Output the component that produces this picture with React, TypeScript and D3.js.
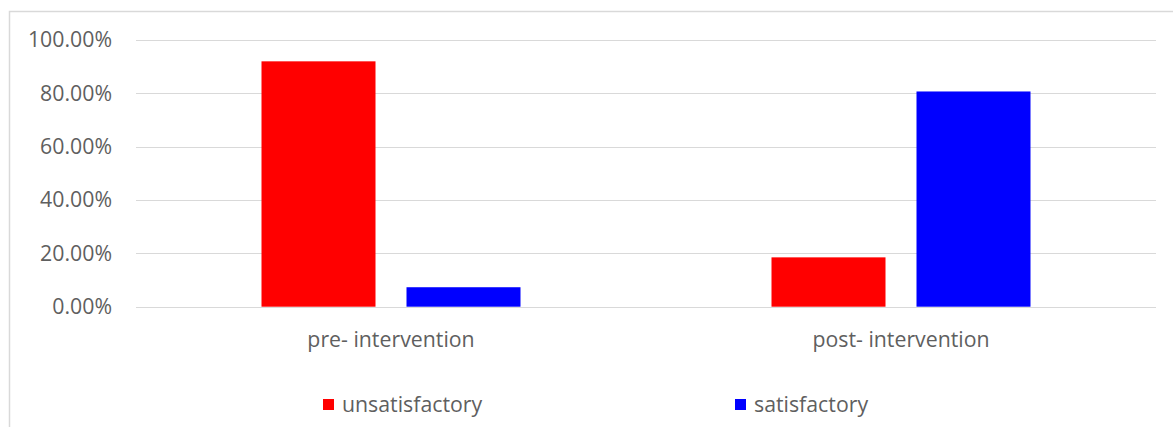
import React from "react";
import * as d3 from "d3";

const categories = ["pre- intervention", "post- intervention"];
const seriesNames = ["unsatisfactory", "satisfactory"];
const unsatisfactory = [92.0, 18.5];
const satisfactory = [7.3, 80.7];
const yTicks = [0, 20, 40, 60, 80, 100];
const colors = ["#ff0000", "#0000ff"];

const W = 1173;
const H = 427;
const FONT = "'Open Sans', Lato, sans-serif";
const TEXT = "#5f5f5f";
const FS = 21.3;

export default function App() {
  const x = d3.scaleBand<string>().domain(categories).range([136, 1156]);
  const y = d3.scaleLinear().domain([0, 100]).range([306.7, 40]);
  const barW = 114;
  const inner = 31;
  const series = [unsatisfactory, satisfactory];
  const fmt = (v: number) => v.toFixed(2) + "%";
  const legendX = [323, 735];

  return (
    <svg width={W} height={H} style={{ position: "absolute", left: 0, top: 0, background: "#fff" }}>
      <rect x={9.5} y={11.5} width={1400} height={600} fill="#fff" stroke="#d9d9d9" strokeWidth={1.5} />
      {yTicks.map((t) => (
        <g key={t}>
          <line x1={136} x2={1156} y1={Math.round(y(t)) + 0.5} y2={Math.round(y(t)) + 0.5} stroke="#d9d9d9" strokeWidth={1} />
          <text x={112} y={y(t)} dy="0.35em" textAnchor="end" fontFamily={FONT} fontSize={FS} fill={TEXT}>
            {fmt(t)}
          </text>
        </g>
      ))}
      {categories.map((c, ci) => {
        const center = (x(c) as number) + x.bandwidth() / 2;
        return (
          <g key={c}>
            {series.map((s, si) => {
              const bx = si === 0 ? center - inner / 2 - barW : center + inner / 2;
              return (
                <rect key={si} x={bx} y={y(s[ci])} width={barW} height={y(0) - y(s[ci])} fill={colors[si]} />
              );
            })}
            <text x={center} y={340} dy="0.35em" textAnchor="middle" fontFamily={FONT} fontSize={FS} fill={TEXT}>
              {c}
            </text>
          </g>
        );
      })}
      {seriesNames.map((n, i) => (
        <g key={n}>
          <rect x={legendX[i]} y={399} width={11} height={11} fill={colors[i]} />
          <text x={legendX[i] + 19} y={405} dy="0.35em" fontFamily={FONT} fontSize={FS} fill={TEXT}>
            {n}
          </text>
        </g>
      ))}
    </svg>
  );
}
